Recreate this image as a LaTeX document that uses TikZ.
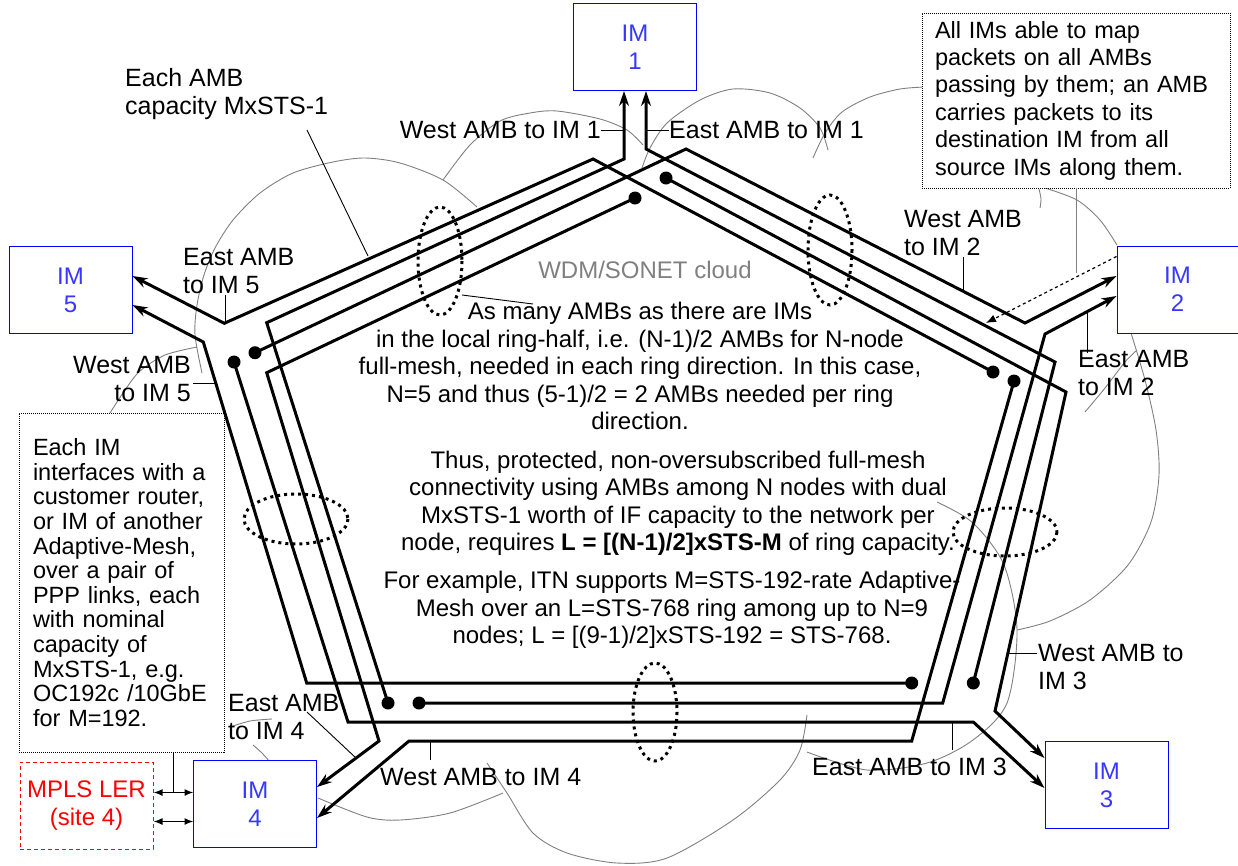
\documentclass[tikz,border=0pt]{standalone}
\usepackage{fontspec}
\setmainfont{Liberation Sans}
\usetikzlibrary{arrows.meta,calc,positioning}

\definecolor{imblue}{RGB}{55,55,255}

\begin{document}
\begin{tikzpicture}[x=1pt,y=-1pt,
    imbox/.style={draw=blue,line width=1pt,fill=white,text=imblue,
      minimum width=123pt,minimum height=87pt,align=center,
      font=\fontsize{24}{28}\selectfont},
    amb/.style={line width=3pt,-{Stealth[length=15pt,width=10pt]}},
    ptr/.style={line width=0.9pt},
    cloudarc/.style={draw=gray,line width=0.9pt},
    bundle/.style={line width=3pt,dash pattern=on 3pt off 4pt},
    lbl/.style={inner sep=0pt,font=\fontsize{25}{28.5}\selectfont},
    para/.style={inner sep=0pt,align=center,font=\fontsize{24}{27.5}\selectfont},
    notebox/.style={draw,dash pattern=on 1pt off 1pt,line width=0.8pt,fill=white,align=left},
    dbl/.style={line width=1.5pt,{Latex[length=9pt,width=7pt]}-{Latex[length=9pt,width=7pt]}}]
    \useasboundingbox (0,0) rectangle (1238,865);

    % cloud outline
    \draw[cloudarc] plot[smooth] coordinates {(202,373) (195,335) (197,305) (204,275) (215,248) (233,220) (260,193) (293,173) (333,162) (365,158) (400,163) (443,180) (477,207)};
    \draw[cloudarc] plot[smooth] coordinates {(443,180) (470,145) (500,121) (530,113) (557,111) (600,119) (627,130) (643,145)};
    \draw[cloudarc] plot[smooth] coordinates {(642,168) (650,148) (667,123) (700,100) (733,89) (770,93) (800,108) (820,128) (828,150)};
    \draw[cloudarc] plot[smooth] coordinates {(813,158) (825,133) (842,112) (870,97) (900,89) (925,87)};
    \draw[cloudarc] plot[smooth] coordinates {(1045,188) (1077,200) (1100,220) (1117,245)};
    \draw[cloudarc] plot[smooth] coordinates {(1039,189) (1041,199) (1040,208)};
    \draw[cloudarc] plot[smooth] coordinates {(1131,333) (1145,380) (1156,430) (1159,475) (1151,522) (1128,565) (1090,600) (1050,621) (1017,630)};
    \draw[cloudarc] plot[smooth] coordinates {(1085,412) (1105,388) (1125,362) (1137,350)};
    \draw[cloudarc] plot[smooth] coordinates {(937,502) (973,523) (1004,565) (1017,630) (1007,703) (973,740) (927,763) (867,770) (807,752)};
    \draw[cloudarc] plot[smooth] coordinates {(487,763) (507,793) (533,833) (567,853) (617,863) (667,858) (733,820) (780,780) (800,750) (807,715)};
    \draw[cloudarc] plot[smooth] coordinates {(318,798) (367,817) (400,820) (450,813) (503,793)};
    \draw[cloudarc] plot[smooth] coordinates {(230,727) (250,721) (272,719)};
    \draw[cloudarc] plot[smooth] coordinates {(253,745) (262,753) (270,762)};
    \draw[cloudarc] plot[smooth] coordinates {(110,413) (125,390) (140,371) (165,355) (197,347)};

    % notes
    \node[notebox,text width=282pt,inner xsep=13pt,minimum height=175pt,
      font=\fontsize{23.5}{27.4}\selectfont] (callout) at (1076,100.5)
      {All IMs able to map\\packets on all AMBs\\passing by them; an AMB\\carries packets to its\\destination IM from all\\source IMs along them.};
    \node[notebox,text width=177pt,inner xsep=14pt,inner ysep=0pt,minimum height=339pt,
      font=\fontsize{23.5}{24.6}\selectfont] (eachim) at (121.5,582.5)
      {Each IM\\interfaces with a\\customer router,\\or IM of another\\Adaptive-Mesh,\\over a pair of\\PPP links, each\\with nominal\\capacity of\\MxSTS-1, e.g.\\OC192c /10GbE\\for M=192.};

    % interface modules
    \node[imbox] (im1) at (635,47) {IM\\1};
    \node[imbox,minimum width=121pt] (im2) at (1177.5,289.5) {IM\\2};
    \node[imbox] (im3) at (1106.5,785) {IM\\3};
    \node[imbox] (im4) at (255,804) {IM\\4};
    \node[imbox] (im5) at (70.5,290) {IM\\5};
    \node[draw=red,dash pattern=on 4pt off 3pt,line width=1pt,text=red,
      minimum width=133pt,minimum height=87pt,align=center,
      font=\fontsize{24}{28}\selectfont] (ler) at (86.5,805.5) {MPLS LER\\(site 4)};

    % AMB sources
    \coordinate (w1s) at (388,703);
    \coordinate (e1s) at (973.3,683);
    \coordinate (w2s) at (255,352.7);
    \coordinate (e2s) at (419,703);
    \coordinate (w3s) at (666,178);
    \coordinate (e3s) at (234,362);
    \coordinate (w4s) at (1014,381);
    \coordinate (e4s) at (635,198);
    \coordinate (w5s) at (911.7,683);
    \coordinate (e5s) at (993,372);

    % AMBs
    \draw[amb] (w1s) -- (266.7,322.7) -- (624,159) -- ($(im1.south)+(-11,0)$);
    \draw[amb] (e1s) -- (1055,362) -- (646,149) -- ($(im1.south)+(11,0)$);
    \draw[amb] (w2s) -- (686,149) -- (1025,323) -- ($(im2.west)+(0,-13.5)$);
    \draw[amb] (e2s) -- (942.7,703) -- (1045,334) -- ($(im2.west)+(0,6.5)$);
    \draw[amb] (w3s) -- (1066,392) -- (995,711) -- ($(im3.west)+(0,-27)$);
    \draw[amb] (e3s) -- (348,722) -- (973.3,722) -- ($(im3.west)+(0,3)$);
    \draw[amb] (w4s) -- (911.7,741) -- (409,741) -- ($(im4.east)+(0,14)$);
    \draw[amb] (e4s) -- (266.7,372.7) -- (379,741) -- ($(im4.east)+(0,-17)$);
    \draw[amb] (w5s) -- (306.7,683) -- (203.3,342) -- ($(im5.east)+(0,15)$);
    \draw[amb] (e5s) -- (593,159) -- (224.3,323.3) -- ($(im5.east)+(0,-14)$);
    \foreach \s in {w1s,e1s,w2s,e2s,w3s,e3s,w4s,e4s,w5s,e5s}
        \fill (\s) circle (6.5pt);

    % AMB bundles
    \draw[bundle] (440,261) ellipse [x radius=22,y radius=54];
    \draw[bundle] (830,250) ellipse [x radius=22,y radius=55];
    \draw[bundle] (296,519) ellipse [x radius=52,y radius=25];
    \draw[bundle] (1005,532) ellipse [x radius=52,y radius=24];
    \draw[bundle] (655,712) ellipse [x radius=22,y radius=49];

    \draw[dbl] ($(ler.east)+(0,-13)$) -- +(40,0);
    \draw[dbl] ($(ler.east)+(0,16)$) -- +(40,0);
    \draw[ptr] ($(eachim.south)+(52,0)$) -- +(0,40);
    \draw[ptr,gray] (callout.south) -- +(0,85);
    \draw[line width=1.2pt,dashed,-{Latex[length=10pt,width=8pt]}] ($(im2.north west)+(0,11)$) -- (986,323);

    % labels
    \node[lbl,anchor=west,align=left] (lblcap) at (125,94) {Each AMB\\capacity MxSTS-1};
    \draw[ptr] (307,130) -- (368,256);
    \node[lbl,anchor=east] (lblw1) at (601,130) {West AMB to IM 1};
    \draw[ptr] (lblw1.east) -- (624,130);
    \node[lbl,anchor=west] (lble1) at (669,130) {East AMB to IM 1};
    \draw[ptr] (lble1.west) -- (646,130);
    \node[lbl,anchor=west,align=left] (lblw2) at (904,233) {West AMB\\to IM 2};
    \draw[ptr] (963,257) -- (963,291);
    \node[lbl,anchor=west,align=left] (lble2) at (1078,373) {East AMB\\to IM 2};
    \draw[ptr] (1087,313) -- (1087,353);
    \node[lbl,anchor=west,align=left] (lble5) at (183,271) {East AMB\\to IM 5};
    \draw[ptr] (225,295) -- (225,323);
    \node[lbl,anchor=east,align=right] (lblw5) at (191,379) {West AMB\\to IM 5};
    \draw[ptr] (193,383) -- (215,383);
    \node[lbl,anchor=west,align=left] (lble4) at (228,717) {East AMB\\to IM 4};
    \draw[ptr] (307,712) -- (356,758);
    \node[lbl,anchor=west] (lblw4) at (380,777) {West AMB to IM 4};
    \draw[ptr] (430,741) -- (430,760);
    \node[lbl,anchor=west] (lble3) at (812,767) {East AMB to IM 3};
    \draw[ptr] (952.7,722) -- (952.7,750);
    \node[lbl,anchor=west,align=left] (lblw3) at (1038,667) {West AMB to\\IM 3};
    \draw[ptr] (1008,653) -- (1037,653);

    \node[para,text=gray] (cloudlbl) at (645,270) {WDM/SONET cloud};
    \node[para] (para1) at (640,366) {As many AMBs as there are IMs\\in the local ring-half, i.e. (N-1)/2 AMBs for N-node\\full-mesh, needed in each ring direction. In this case,\\N=5 and thus (5-1)/2 = 2 AMBs needed per ring\\direction.};
    \draw[ptr] (462,295) -- (533,304);
    \node[para] (para2) at (678,503.5) {Thus, protected, non-oversubscribed full-mesh\\connectivity using AMBs among N nodes with dual\\MxSTS-1 worth of IF capacity to the network per\\node, requires \textbf{L = [(N-1)/2]xSTS-M} of ring capacity.};
    \node[para] (para3) at (672,610) {For example, ITN supports M=STS-192-rate Adaptive-\\Mesh over an L=STS-768 ring among up to N=9\\nodes; L = [(9-1)/2]xSTS-192 = STS-768.};
\end{tikzpicture}
\end{document}
